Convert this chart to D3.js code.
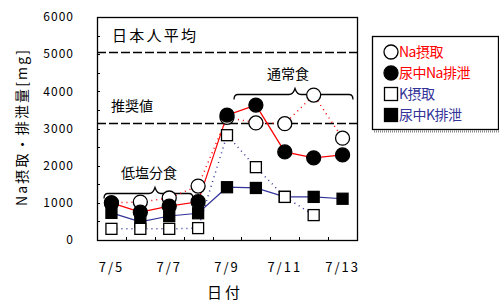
<!DOCTYPE html>
<html>
<head>
<meta charset="utf-8">
<script src="https://cdn.jsdelivr.net/npm/d3@7"></script>
<style>
  body { margin: 0; background: #fff; }
  text { font-family: "Noto Sans CJK JP", "Noto Sans", sans-serif; }
</style>
</head>
<body>
<script>
const dates = ['7/5', '7/6', '7/7', '7/8', '7/9', '7/10', '7/11', '7/12', '7/13'];
const dateLabels = ['7/5', '7/7', '7/9', '7/11', '7/13'];
const naIntake = [1000, 1020, 1130, 1450, 3300, 3150, 3130, 3900, 2740];
const naExcretion = [1000, 750, 910, 1030, 3360, 3630, 2370, 2210, 2290];
const kIntake = [300, 300, 300, 320, 2820, 1960, 1160, 670, null];
const kExcretion = [730, 490, 645, 720, 1420, 1400, 1160, 1160, 1110];
const yTicks = [0, 1000, 2000, 3000, 4000, 5000, 6000];
const refLines = [
  { label: '日本人平均', value: 5060 },
  { label: '推奨値', value: 3150 }
];
const legendNames = ['Na摂取', '尿中Na排泄', 'K摂取', '尿中K排泄'];

const W = 499, H = 301;
const pL = 97, pR = 357, pT = 17, pB = 240;
const red = '#ff0000', blue = '#333399';

const svg = d3.select('body').append('svg')
  .attr('width', W).attr('height', H);

const x = d3.scaleBand().domain(dates).range([pL, pR]);
const cx = (i) => x(dates[i]) + x.bandwidth() / 2;
const y = d3.scaleLinear().domain([0, 6000]).range([pB, pT]);

// y tick labels
svg.append('g').selectAll('text')
  .data(yTicks)
  .enter().append('text')
  .attr('x', 74).attr('y', (d) => y(d))
  .attr('dy', '0.35em')
  .attr('text-anchor', 'end')
  .attr('font-size', 12)
  .attr('letter-spacing', 1)
  .text((d) => d);

// minor y ticks
svg.append('g').selectAll('line')
  .data(d3.range(500, 6000, 500))
  .enter().append('line')
  .attr('x1', pL).attr('x2', pL + 3)
  .attr('y1', (d) => Math.round(y(d)) + 0.5).attr('y2', (d) => Math.round(y(d)) + 0.5)
  .attr('stroke', '#000');

// x ticks between categories
svg.append('g').selectAll('line')
  .data(dates.slice(1))
  .enter().append('line')
  .attr('x1', (d) => Math.round(x(d)) + 0.5).attr('x2', (d) => Math.round(x(d)) + 0.5)
  .attr('y1', pB).attr('y2', pB - 3)
  .attr('stroke', '#000');

// x labels
svg.append('g').selectAll('text')
  .data(dateLabels)
  .enter().append('text')
  .attr('x', (d) => x(d) + x.bandwidth() / 2)
  .attr('y', 267)
  .attr('dy', '0.35em')
  .attr('text-anchor', 'middle')
  .attr('font-size', 13)
  .attr('letter-spacing', 2)
  .text((d) => d);

// axis titles
svg.append('text')
  .attr('x', 225).attr('y', 293).attr('dy', '0.35em')
  .attr('text-anchor', 'middle')
  .attr('font-size', 15).attr('letter-spacing', 3)
  .text('日付');

svg.append('text')
  .attr('transform', 'translate(22,128) rotate(-90)')
  .attr('dy', '0.35em')
  .attr('text-anchor', 'middle')
  .attr('font-size', 14)
  .attr('textLength', 156).attr('lengthAdjust', 'spacing')
  .text('Na摂取・排泄量[mg]');

// reference lines
svg.append('g').selectAll('line')
  .data(refLines)
  .enter().append('line')
  .attr('x1', pL).attr('x2', pR)
  .attr('y1', (d) => Math.round(y(d.value)) + 0.5).attr('y2', (d) => Math.round(y(d.value)) + 0.5)
  .attr('stroke', '#000').attr('stroke-width', 1.3)
  .attr('stroke-dasharray', '9,3');

svg.append('text')
  .attr('x', 112).attr('y', y(refLines[0].value) - 16).attr('dy', '0.35em')
  .attr('font-size', 15).attr('textLength', 84).attr('lengthAdjust', 'spacing')
  .text(refLines[0].label);
svg.append('text')
  .attr('x', 111).attr('y', y(refLines[1].value) - 17).attr('dy', '0.35em')
  .attr('font-size', 14)
  .text(refLines[1].label);

// braces
const brace = (x0, x1, xp, yy) => {
  return 'M' + x0 + ',' + (yy + 5) + ' Q' + x0 + ',' + yy + ' ' + (x0 + 4) + ',' + yy +
    ' L' + (xp - 6) + ',' + yy + ' Q' + (xp - 2) + ',' + yy + ' ' + xp + ',' + (yy - 6) +
    ' Q' + (xp + 2) + ',' + yy + ' ' + (xp + 6) + ',' + yy +
    ' L' + (x1 - 4) + ',' + yy + ' Q' + x1 + ',' + yy + ' ' + x1 + ',' + (yy + 5);
};
svg.append('path')
  .attr('d', brace(104, 193, 155, Math.round(y(1270)) + 0.5))
  .attr('fill', 'none').attr('stroke', '#000').attr('stroke-width', 1.3);
svg.append('path')
  .attr('d', brace(234, 353, 295, Math.round(y(3930)) + 0.5))
  .attr('fill', 'none').attr('stroke', '#000').attr('stroke-width', 1.3);
svg.append('text')
  .attr('x', 149).attr('y', 173).attr('dy', '0.35em')
  .attr('text-anchor', 'middle').attr('font-size', 14)
  .text('低塩分食');
svg.append('text')
  .attr('x', 288).attr('y', 74).attr('dy', '0.35em')
  .attr('text-anchor', 'middle').attr('font-size', 14)
  .text('通常食');

// series lines
const lineGen = d3.line()
  .defined((d) => d != null)
  .x((d, i) => cx(i))
  .y((d) => y(d));

const series = [
  { values: naIntake, color: red, dash: '1,4', shape: 'circle', fill: '#fff' },
  { values: naExcretion, color: red, dash: null, shape: 'circle', fill: '#000' },
  { values: kExcretion, color: blue, dash: null, shape: 'square', fill: '#000' },
  { values: kIntake, color: blue, dash: '1,4', shape: 'square', fill: '#fff' }
];

series.forEach((s) => {
  svg.append('path')
    .datum(s.values)
    .attr('d', lineGen)
    .attr('fill', 'none')
    .attr('stroke', s.color)
    .attr('stroke-width', s.dash ? 1.5 : 1.2)
    .attr('stroke-dasharray', s.dash);
});

series.forEach((s) => {
  const pts = s.values.map((v, i) => ({ v, i })).filter((d) => d.v != null);
  const g = svg.append('g');
  if (s.shape === 'circle') {
    g.selectAll('circle').data(pts).enter().append('circle')
      .attr('cx', (d) => cx(d.i)).attr('cy', (d) => y(d.v))
      .attr('r', 7)
      .attr('fill', s.fill).attr('stroke', '#000').attr('stroke-width', 1.3);
  } else {
    g.selectAll('rect').data(pts).enter().append('rect')
      .attr('x', (d) => cx(d.i) - 5.5).attr('y', (d) => y(d.v) - 5.5)
      .attr('width', 11).attr('height', 11)
      .attr('fill', s.fill).attr('stroke', '#000').attr('stroke-width', 1.3);
  }
});

// plot frame
svg.append('rect')
  .attr('x', pL + 0.5).attr('y', pT + 0.5)
  .attr('width', pR - pL).attr('height', pB - pT)
  .attr('fill', 'none').attr('stroke', '#000').attr('stroke-width', 1.3);

// legend
const lg = svg.append('g');
lg.append('line')
  .attr('x1', 374).attr('x2', 499).attr('y1', 131.5).attr('y2', 131.5)
  .attr('stroke', '#888').attr('stroke-width', 2).attr('stroke-dasharray', '1,1');
lg.append('rect')
  .attr('x', 372.5).attr('y', 36.5).attr('width', 126).attr('height', 93)
  .attr('fill', '#fff').attr('stroke', '#000').attr('stroke-width', 1.3);
const legendRows = [52, 73, 94, 115];
const legendColors = [red, red, blue, blue];
legendNames.forEach((name, i) => {
  const s = series[[0, 1, 3, 2][i]];
  const ly = legendRows[i];
  if (s.shape === 'circle') {
    lg.append('circle').attr('cx', 391).attr('cy', ly).attr('r', 7)
      .attr('fill', s.fill).attr('stroke', '#000').attr('stroke-width', 1.3);
  } else {
    lg.append('rect').attr('x', 384.5).attr('y', ly - 6.5).attr('width', 13).attr('height', 13)
      .attr('fill', s.fill).attr('stroke', '#000').attr('stroke-width', 1.3);
  }
  lg.append('text')
    .attr('x', 399).attr('y', ly).attr('dy', '0.35em')
    .attr('font-size', 14).attr('fill', legendColors[i])
    .attr('letter-spacing', -0.5)
    .text(name);
});
</script>
</body>
</html>
